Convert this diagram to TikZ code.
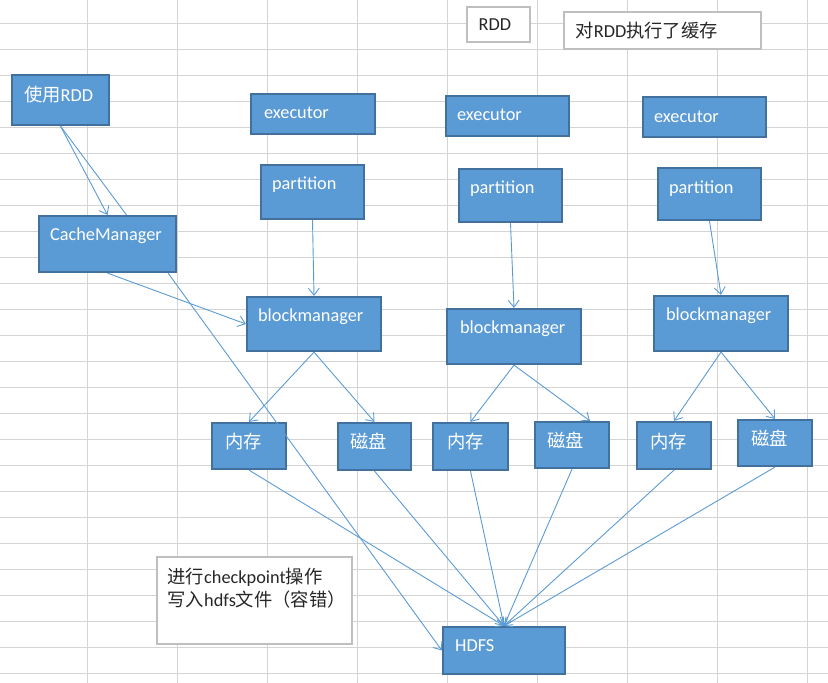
\documentclass[tikz,border=0pt]{standalone}
\usepackage{fontspec}
\setmainfont{Carlito}
\newfontfamily\cjk{Noto Sans CJK SC}
\usetikzlibrary{arrows.meta,fit}
\definecolor{boxblue}{RGB}{91,155,213}
\definecolor{boxedge}{RGB}{65,113,156}
\definecolor{gridgray}{RGB}{212,212,212}
\definecolor{noteedge}{RGB}{191,191,191}
\tikzset{
  box/.style={draw=boxedge, line width=2.2pt, fill=boxblue, inner sep=0pt},
  note/.style={draw=noteedge, line width=1.2pt, fill=white, inner sep=0pt},
  txt/.style={anchor=base west, inner sep=0pt, text=white, font=\fontsize{18.3}{23}\selectfont},
  notetxt/.style={txt, text=black!85},
  link/.style={draw=boxblue, line width=0.9pt, ->}
}

\begin{document}
\begin{tikzpicture}[x=1pt,y=-1pt,>={Straight Barb[length=7pt,width=11pt]}]
    \useasboundingbox (0,0) rectangle (828,683);

    % Spreadsheet grid
    \foreach \gx in {87,177,...,807} {
            \draw[gridgray, line width=1pt] (\gx,0) -- (\gx,683);
        }
    \foreach \gy in {23,49,...,673} {
            \draw[gridgray, line width=1pt] (0,\gy) -- (828,\gy);
        }

    % Notes
    \node[note, fit={(467,7) (530,42)}] (rdd) {};
    \node[notetxt] (rdd-t) at ([shift={(12,24)}]rdd.north west) {RDD};
    \node[note, fit={(564,12) (761,49)}] (cached) {};
    \node[notetxt] (cached-t) at ([shift={(12,26)}]cached.north west) {{\cjk 对}RDD{\cjk 执行了缓存}};
    \node[note, fit={(157,557) (352,644)}] (ckpt) {};
    \node[notetxt, align=left] (ckpt-t) at ([shift={(11,50)}]ckpt.north west) {{\cjk 进行}checkpoint{\cjk 操作}\\{\cjk 写入}hdfs{\cjk 文件（容错）}};

    % Boxes
    \node[box, fit={(12,75) (109,125)}] (use) {};
    \node[txt] (use-t) at ([shift={(13,28)}]use.north west) {{\cjk 使用}RDD};
    \node[box, fit={(39,216) (176,272)}] (cm) {};
    \node[txt] (cm-t) at ([shift={(12,26)}]cm.north west) {CacheManager};

    \node[box, fit={(251,94) (375,134)}] (ex1) {};
    \node[txt] (ex1-t) at ([shift={(14,26)}]ex1.north west) {executor};
    \node[box, fit={(446,96) (569,136)}] (ex2) {};
    \node[txt] (ex2-t) at ([shift={(12,26)}]ex2.north west) {executor};
    \node[box, fit={(643,97) (766,137)}] (ex3) {};
    \node[txt] (ex3-t) at ([shift={(12,27)}]ex3.north west) {executor};

    \node[box, fit={(261,165) (364,219)}] (p1) {};
    \node[txt] (p1-t) at ([shift={(12,26)}]p1.north west) {partition};
    \node[box, fit={(459,169) (562,222)}] (p2) {};
    \node[txt] (p2-t) at ([shift={(12,26)}]p2.north west) {partition};
    \node[box, fit={(658,168) (761,220)}] (p3) {};
    \node[txt] (p3-t) at ([shift={(12,27)}]p3.north west) {partition};

    \node[box, fit={(247,297) (381,351)}] (bm1) {};
    \node[txt] (bm1-t) at ([shift={(12,26)}]bm1.north west) {blockmanager};
    \node[box, fit={(447,309) (581,364)}] (bm2) {};
    \node[txt] (bm2-t) at ([shift={(14,26)}]bm2.north west) {blockmanager};
    \node[box, fit={(654,296) (788,351)}] (bm3) {};
    \node[txt] (bm3-t) at ([shift={(13,26)}]bm3.north west) {blockmanager};

    \node[box, fit={(212,423) (286,469)}] (m1) {};
    \node[txt] (m1-t) at ([shift={(14,27)}]m1.north west) {\cjk 内存};
    \node[box, fit={(338,423) (411,470)}] (d1) {};
    \node[txt] (d1-t) at ([shift={(13,27)}]d1.north west) {\cjk 磁盘};
    \node[box, fit={(433,423) (508,470)}] (m2) {};
    \node[txt] (m2-t) at ([shift={(15,27)}]m2.north west) {\cjk 内存};
    \node[box, fit={(535,422) (609,468)}] (d2) {};
    \node[txt] (d2-t) at ([shift={(13,27)}]d2.north west) {\cjk 磁盘};
    \node[box, fit={(637,422) (711,469)}] (m3) {};
    \node[txt] (m3-t) at ([shift={(14,28)}]m3.north west) {\cjk 内存};
    \node[box, fit={(738,420) (812,466)}] (d3) {};
    \node[txt] (d3-t) at ([shift={(14,27)}]d3.north west) {\cjk 磁盘};

    \node[box, fit={(443,627) (565,674)}] (hdfs) {};
    \node[txt] (hdfs-t) at ([shift={(13,26)}]hdfs.north west) {HDFS};

    % Connectors
    \draw[link] (use.south) -- (cm.north);
    \draw[link, -] (use.south) -- ([xshift=19pt]cm.north);
    \draw[link] (cm.south) -- (bm1.west);
    \draw[link] ([xshift=-9pt]cm.south east) -- (hdfs.west);
    \draw[link] (bm2.south) -- ([xshift=18pt]d2.north);
    \foreach \source/\target in {p1/bm1, p2/bm2, p3/bm3, bm1/m1, bm1/d1, bm2/m2, bm3/m3, bm3/d3,
            m1/hdfs, d1/hdfs, m2/hdfs, d2/hdfs, m3/hdfs, d3/hdfs} {
            \draw[link] (\source.south) -- (\target.north);
        }
\end{tikzpicture}
\end{document}
